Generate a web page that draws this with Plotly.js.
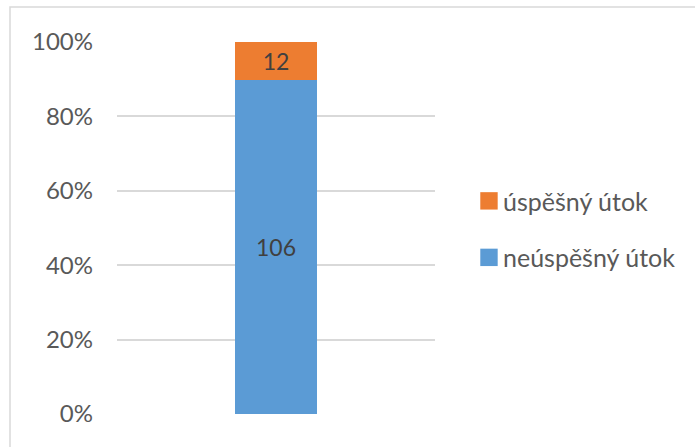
<!DOCTYPE html>
<html>
<head>
<meta charset="utf-8">
<script src="https://cdn.plot.ly/plotly-3.0.1.min.js"></script>
<style>
  html, body { margin: 0; padding: 0; background: #fff; }
  #chart { width: 695px; height: 447px; }
</style>
</head>
<body>
<div id="chart"></div>
<script>
// Útoky: počty úspěšných a neúspěšných, zobrazené jako 100% skládaný sloupec
const categories = ['útoky'];
const unsuccessful = [106];
const successful = [12];
const seriesNames = ['neúspěšný útok', 'úspěšný útok'];
const tickVals = [0, 20, 40, 60, 80, 100];
const tickText = ['0%', '20%', '40%', '60%', '80%', '100%'];

const FONT = 'Lato, "Open Sans", sans-serif';
const labelFont = { family: FONT, size: 23, color: '#404040' };

const traces = [
  {
    type: 'bar',
    name: seriesNames[0],
    x: categories,
    y: unsuccessful,
    text: unsuccessful.map(String),
    textposition: 'inside',
    insidetextanchor: 'middle',
    textfont: labelFont,
    marker: { color: '#5b9bd5' },
    width: 0.255,
    legendgroup: 'neuspesny',
    legendrank: 2,
    hoverinfo: 'skip'
  },
  {
    type: 'bar',
    name: seriesNames[1],
    x: categories,
    y: successful,
    text: successful.map(String),
    textposition: 'inside',
    insidetextanchor: 'middle',
    textfont: labelFont,
    marker: { color: '#ed7d31' },
    width: 0.255,
    legendgroup: 'uspesny',
    legendrank: 1,
    hoverinfo: 'skip'
  }
];

const layout = {
  width: 695,
  height: 447,
  margin: { l: 117, r: 260, t: 42, b: 33 },
  paper_bgcolor: '#ffffff',
  plot_bgcolor: '#ffffff',
  barmode: 'stack',
  barnorm: 'percent',
  font: { family: FONT, color: '#595959' },
  showlegend: true,
  legend: {
    x: 1.088, xanchor: 'left',
    y: 0.497, yanchor: 'middle',
    traceorder: 'grouped',
    tracegroupgap: 21,
    font: { family: FONT, size: 25, color: '#595959' },
    itemwidth: 30
  },
  xaxis: {
    range: [-0.5, 0.5],
    showticklabels: false,
    showgrid: false,
    zeroline: false,
    showline: false,
    fixedrange: true
  },
  yaxis: {
    range: [0, 100],
    tickvals: tickVals,
    ticktext: tickText,
    tickfont: { family: FONT, size: 24, color: '#595959' },
    ticklen: 0,
    ticks: '',
    ticklabelstandoff: 23,
    showgrid: true,
    gridcolor: '#d9d9d9',
    gridwidth: 2,
    zeroline: false,
    showline: false,
    fixedrange: true
  },
  shapes: [
    {
      type: 'rect', xref: 'paper', yref: 'paper',
      x0: -0.3365, x1: 1.9, y0: -0.2, y1: 1.094,
      line: { color: '#d9d9d9', width: 1.5 },
      fillcolor: 'rgba(0,0,0,0)',
      layer: 'below'
    }
  ]
};

Plotly.newPlot('chart', traces, layout, { displayModeBar: false, staticPlot: true }).then(function (gd) {
  // larger square legend swatches, sitting close to their labels
  gd.querySelectorAll('.legend .legendpoints path').forEach(function (p) {
    const base = p.getAttribute('transform') || '';
    p.setAttribute('transform', base + ' translate(6,0) scale(1.45)');
  });
});
</script>
</body>
</html>
